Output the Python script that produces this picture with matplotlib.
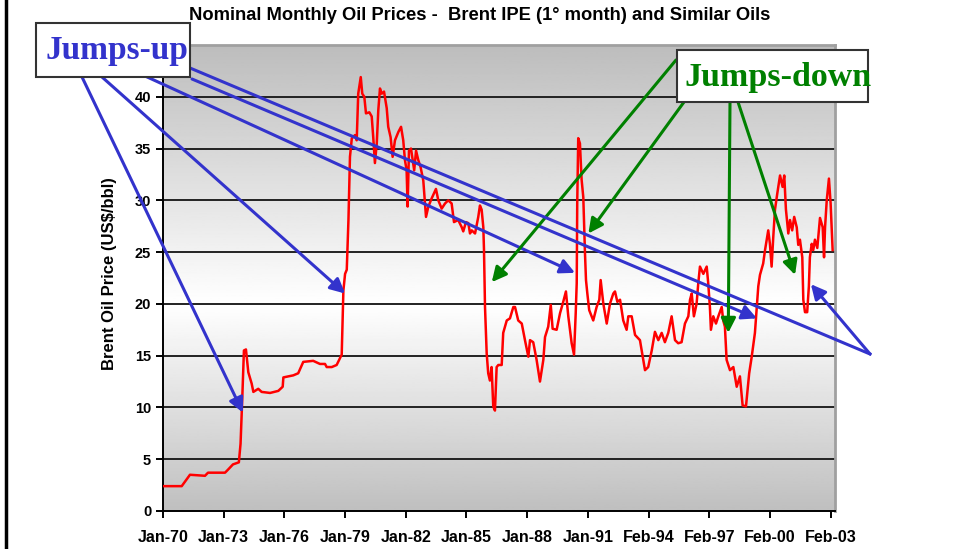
import matplotlib.pyplot as plt
import numpy as np
from matplotlib.patches import Rectangle
from matplotlib.lines import Line2D

# month index counted from Jan-70, Brent price in US$/bbl
months = [0, 11.1, 16.0, 24.9, 26.7, 36.8, 38.6, 41.5, 45.0, 46.0, 47.0, 48.0, 49.2,
          50.6, 52.6, 53.6, 56.5, 58.5, 63.5, 68.4, 71.0, 71.4, 77.3, 80.2, 83.2, 89.1,
          93.1, 96.1, 97.1, 100.1, 103.0, 106.0, 107.0, 108.0, 109.0, 110.0, 110.9, 112.0,
          113.9, 114.9, 115.8, 117.3, 118.2, 119.4, 120.4, 122.4, 123.8, 124.7, 125.7,
          126.8, 127.7, 128.7, 129.7, 131.1, 132.7, 133.6, 135.0, 136.2, 137.6, 139.6,
          141.2, 142.5, 143.5, 144.5, 145.1, 145.9, 147.1, 148.1, 149.0, 150.1, 151.4,
          152.8, 154.4, 156.0, 157.4, 159.4, 161.9, 163.3, 165.3, 167.3, 169.2, 171.2,
          172.6, 175.1, 177.2, 178.1, 179.7, 181.1, 182.1, 183.1, 185.1, 187.0, 188.0,
          189.0, 190.0, 190.4, 191.0, 192.0, 192.9, 193.9, 194.9, 195.9, 196.9, 197.9,
          198.9, 200.9, 201.8, 203.9, 205.8, 207.8, 208.8, 210.7, 212.8, 214.7, 216.7,
          217.7, 219.6, 221.6, 223.6, 225.6, 226.6, 228.5, 230.0, 231.1, 233.5, 235.5,
          237.4, 239.0, 240.4, 242.4, 243.8, 244.8, 245.4, 245.7, 246.3, 247.3, 248.3,
          249.3, 250.3, 250.9, 251.7, 252.8, 255.2, 257.2, 258.8, 259.6, 261.2, 263.2,
          265.1, 267.1, 268.1, 269.5, 271.1, 273.0, 275.0, 276.0, 278.0, 280.0, 282.9,
          284.9, 285.9, 287.8, 289.9, 291.8, 293.8, 295.8, 297.7, 299.7, 301.7, 303.7,
          305.6, 307.6, 309.6, 311.6, 312.6, 313.6, 314.9, 316.5, 317.5, 318.5, 320.5,
          322.5, 323.4, 324.4, 325.0, 326.4, 328.0, 329.4, 331.4, 332.3, 333.3, 334.3,
          336.3, 338.3, 340.3, 342.2, 343.8, 345.8, 347.7, 349.2, 351.1, 352.1, 353.1,
          354.1, 356.0, 357.1, 359.0, 360.0, 361.0, 362.0, 363.0, 364.4, 366.0, 367.5,
          368.5, 369.5, 370.9, 371.9, 373.2, 374.4, 375.9, 376.8, 377.8, 379.2, 379.8,
          380.8, 382.1, 383.1, 383.7, 384.8, 385.7, 386.7, 388.1, 389.7, 391.3, 392.1,
          392.7, 393.7, 395.0, 396.0, 397.2]
price = [2.4, 2.4, 3.5, 3.4, 3.7, 3.7, 4.0, 4.5, 4.7, 6.5, 10.8, 15.5, 15.6,
         13.4, 12.3, 11.5, 11.8, 11.5, 11.4, 11.6, 12.0, 12.9, 13.1, 13.3, 14.4, 14.5,
         14.2, 14.2, 13.9, 13.9, 14.1, 15.1, 21.3, 22.9, 23.3, 28.1, 34.2, 36.0,
         36.3, 35.8, 40.3, 41.9, 40.3, 40.0, 38.4, 38.5, 38.1, 36.1, 33.6,
         35.5, 38.7, 40.8, 40.3, 40.5, 38.9, 37.1, 36.1, 34.2, 35.8, 36.6,
         37.1, 35.8, 33.9, 32.9, 29.4, 34.8, 35.0, 33.9, 32.9, 34.8, 33.9,
         33.2, 31.9, 28.4, 29.4, 30.2, 31.1, 30.0, 29.2, 29.7, 30.0, 29.7,
         27.9, 28.1, 27.4, 27.0, 27.9, 27.8, 26.8, 27.1, 26.8, 28.4, 29.5,
         29.1, 27.4, 25.2, 19.7, 15.2, 13.3, 12.6, 13.9, 10.1, 9.7, 13.9,
         14.1, 14.1, 17.2, 18.4, 18.6, 19.7, 19.7, 18.4, 18.1, 16.5, 14.9,
         16.5, 16.3, 14.6, 12.5, 14.6, 16.8, 17.8, 19.9, 17.6, 17.5, 19.1,
         20.2, 21.2, 18.8, 16.2, 15.1, 19.1, 22.0, 29.7, 36.0, 35.5, 32.0,
         30.3, 24.9, 22.3, 21.0, 19.4, 18.4, 19.7, 20.4, 22.3, 20.0, 18.1,
         20.0, 21.0, 21.2, 20.2, 20.4, 18.4, 17.5, 18.8, 18.8, 17.0, 16.5,
         14.6, 13.6, 13.9, 15.5, 17.3, 16.5, 17.2, 16.3, 17.2, 18.8, 16.5,
         16.2, 16.3, 18.1, 18.8, 20.4, 21.0, 18.8, 20.0, 22.0, 23.6, 22.9,
         23.6, 22.0, 19.7, 17.5, 18.8, 18.1, 18.8, 19.7, 18.4, 17.8, 14.6,
         13.6, 13.9, 12.0, 13.0, 10.2, 10.1, 13.3, 14.9, 17.2, 19.4, 21.7,
         22.8, 23.9, 25.2, 27.1, 25.8, 23.6, 26.5, 29.1, 30.7, 32.4, 31.3,
         32.4, 29.1, 26.8, 28.1, 27.1, 28.4, 27.4, 25.7, 26.2, 24.5, 20.4,
         19.2, 19.2, 21.7, 24.5, 25.8, 25.2, 26.2, 25.4, 28.3, 27.4, 24.5,
         27.4, 30.0, 32.1, 29.7, 25.2]

tick_pos = list(range(0, 397, 36))
tick_labels = ['Jan-70', 'Jan-73', 'Jan-76', 'Jan-79', 'Jan-82', 'Jan-85',
               'Jan-88', 'Jan-91', 'Feb-94', 'Feb-97', 'Feb-00', 'Feb-03']

# arrow targets on the series (month, price)
up_targets = [(47.4, 9.5), (108.0, 21.0), (244.4, 23.0), (352.3, 18.6)]
up_tails_px = [(82, 77), (102, 77), (145, 76), (192, 79)]
down_targets = [(195.0, 22.1), (252.3, 26.8), (335.3, 17.2), (374.9, 22.8)]
down_tails_px = [(676, 60), (684, 102), (730, 102), (738, 102)]

W, H = 961, 549
BLUE = '#3333cc'
GREEN = '#008000'

plt.rcParams['font.family'] = ['Liberation Sans', 'DejaVu Sans']
plt.rcParams['font.weight'] = 'bold'

fig = plt.figure(figsize=(W / 100, H / 100), dpi=100)


def fpos(x, y):
    # pixel (top-left origin) -> figure fraction
    return (x / W, 1 - y / H)


ax = fig.add_axes([163 / W, 1 - 511 / H, (835 - 163) / W, (511 - 45) / H])

# grey-white-grey background
vals = np.linspace(0, 45, 300)
shade = np.interp(vals, [0, 20, 45], [0.75, 1.0, 0.74])
ax.imshow(shade[:, None], cmap='gray', vmin=0, vmax=1, aspect='auto',
          extent=[0, 398.6, 0, 45], origin='lower', zorder=0)

ax.plot(months, price, color='red', lw=1.8, zorder=3)

ax.set_xlim(0, 398.6)
ax.set_ylim(0, 45)
ax.set_yticks(range(0, 41, 5))
ax.set_xticks(tick_pos)
ax.set_xticklabels(tick_labels)
for y in range(5, 41, 5):
    ax.axhline(y, color='#222222', lw=1.4, zorder=1)
ax.tick_params(axis='both', direction='out', length=5, width=1.4)
ax.tick_params(axis='x', pad=9, labelsize=11.5)
ax.tick_params(axis='y', labelsize=10.5)
for lbl in ax.get_xticklabels() + ax.get_yticklabels():
    lbl.set_fontweight('bold')
ax.spines['left'].set_linewidth(1.4)
ax.spines['bottom'].set_linewidth(1.4)
ax.spines['top'].set_color('#a0a0a0')
ax.spines['right'].set_color('#a0a0a0')
ax.spines['top'].set_linewidth(2)
ax.spines['right'].set_linewidth(2)

ax.set_ylabel('Brent Oil Price (US\\$/bbl)', fontsize=12, fontweight='bold')
ax.yaxis.set_label_coords(-0.068, 0.51)

fig.text(480 / W, 1 - 16 / H, 'Nominal Monthly Oil Prices -  Brent IPE (1° month) and Similar Oils',
         ha='center', va='center', fontsize=13.2, fontweight='bold')

# slide border line on the left
fig.add_artist(Line2D([6 / W, 6 / W], [0, 1], color='black', lw=2.5))

arrow_kw = dict(arrowstyle='-|>', lw=2.2, mutation_scale=22, shrinkA=0, shrinkB=0)

for (tx, ty), (mx, py) in zip(up_tails_px, up_targets):
    ax.annotate('', xy=(mx, py), xycoords='data', xytext=fpos(tx, ty),
                textcoords='figure fraction', annotation_clip=False, zorder=5,
                arrowprops=dict(color=BLUE, **arrow_kw))

# long line to the right then back to the 2001 dip
fig.add_artist(Line2D([190 / W, 870 / W], [1 - 68 / H, 1 - 354 / H], color=BLUE, lw=2.2, zorder=5))
ax.annotate('', xy=(384.3, 21.9), xycoords='data', xytext=fpos(870, 354),
            textcoords='figure fraction', annotation_clip=False, zorder=5,
            arrowprops=dict(color=BLUE, **arrow_kw))

for (tx, ty), (mx, py) in zip(down_tails_px, down_targets):
    ax.annotate('', xy=(mx, py), xycoords='data', xytext=fpos(tx, ty),
                textcoords='figure fraction', annotation_clip=False, zorder=5,
                arrowprops=dict(color=GREEN, **arrow_kw))

# label boxes
for (x0, y0, x1, y1) in [(36, 23, 190, 77), (677, 50, 868, 102)]:
    fig.add_artist(Rectangle(fpos(x0, y1), (x1 - x0) / W, (y1 - y0) / H,
                             transform=fig.transFigure, facecolor='white',
                             edgecolor='#333333', lw=1.5, zorder=6))

fig.text(*fpos(117, 51), 'Jumps-up', ha='center', va='center', fontsize=24,
         fontweight='bold', color=BLUE, family='Liberation Serif', zorder=7)
fig.text(*fpos(778, 78), 'Jumps-down', ha='center', va='center', fontsize=24.5,
         fontweight='bold', color=GREEN, family='Liberation Serif', zorder=7)

fig.savefig('out.png', dpi=100)
